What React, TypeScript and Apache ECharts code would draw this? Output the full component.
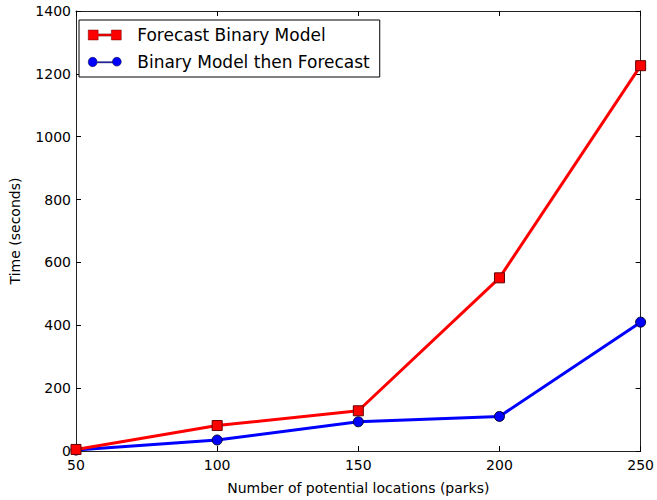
import React, { useEffect, useRef } from "react";
import * as echarts from "echarts";

const xValues = [50, 100, 150, 200, 250];
const forecastBinary = [5, 81, 128, 551, 1226];
const binaryThenForecast = [3, 35, 93, 110, 410];
const seriesNames = ["Forecast Binary Model", "Binary Model then Forecast"];

const FONT = "DejaVu Sans";

const squareIcon =
  "path://M0,0 L9,0 L9,3.5 L21,3.5 L21,0 L30,0 L30,9 L21,9 L21,5.5 L9,5.5 L9,9 L0,9 Z";
const circleIcon =
  "path://M0,4 A4,4 0 1 1 8,4 L22,4 A4,4 0 1 1 30,4 A4,4 0 1 1 22,4 L22,5 L8,5 A4,4 0 1 1 0,4 Z";

export default function App() {
  const ref = useRef<HTMLDivElement>(null);
  useEffect(() => {
    if (!ref.current) return;
    const chart = echarts.init(ref.current, undefined, { renderer: "svg" });
    const tickStyle = { show: true, inside: true, length: 5, lineStyle: { color: "#000", width: 1 } };
    const axisLine = { show: true, onZero: false, lineStyle: { color: "#222", width: 1 } };
    chart.setOption({
      animation: false,
      backgroundColor: "#fff",
      grid: { left: 70, right: 16, top: 11, bottom: 43, containLabel: false },
      legend: {
        orient: "vertical",
        left: 79,
        top: 20,
        padding: [5, 10, 5, 9],
        itemWidth: 33,
        itemHeight: 12,
        itemGap: 7,
        backgroundColor: "#fff",
        borderColor: "#000",
        borderWidth: 1,
        borderRadius: 0,
        textStyle: {
          fontFamily: FONT,
          fontSize: 17,
          color: "#000",
          lineHeight: 20,
          padding: [0, 0, 0, 11],
        },
        data: [
          { name: seriesNames[0], icon: squareIcon, itemStyle: { color: "#ff0000", borderColor: "#600", borderWidth: 0.5 } },
          { name: seriesNames[1], icon: circleIcon, itemStyle: { color: "#0000ff", borderColor: "#003", borderWidth: 0.5 } },
        ],
      },
      xAxis: [
        {
          type: "value",
          min: 50,
          max: 250,
          interval: 50,
          name: "Number of potential locations (parks)",
          nameLocation: "middle",
          nameGap: 30,
          nameTextStyle: { fontFamily: FONT, fontSize: 14, color: "#000" },
          axisLine,
          axisTick: tickStyle,
          axisLabel: { fontFamily: FONT, fontSize: 14, color: "#000", margin: 7 },
          splitLine: { show: false },
        },
        {
          type: "value",
          position: "top",
          min: 50,
          max: 250,
          interval: 50,
          axisLine,
          axisTick: tickStyle,
          axisLabel: { show: false },
          splitLine: { show: false },
        },
      ],
      yAxis: [
        {
          type: "value",
          min: 0,
          max: 1400,
          interval: 200,
          name: "Time (seconds)",
          nameLocation: "middle",
          nameGap: 54,
          nameTextStyle: { fontFamily: FONT, fontSize: 14, color: "#000" },
          axisLine,
          axisTick: tickStyle,
          axisLabel: {
            fontFamily: FONT,
            fontSize: 14,
            color: "#000",
            margin: 5,
            formatter: (v: number) => String(v),
          },
          splitLine: { show: false },
        },
        {
          type: "value",
          position: "right",
          min: 0,
          max: 1400,
          interval: 200,
          axisLine,
          axisTick: tickStyle,
          axisLabel: { show: false },
          splitLine: { show: false },
        },
      ],
      series: [
        {
          name: seriesNames[0],
          type: "line",
          data: xValues.map((x, i) => [x, forecastBinary[i]]),
          symbol: "rect",
          symbolSize: 10,
          lineStyle: { color: "#ff0000", width: 3 },
          itemStyle: { color: "#ff0000", borderColor: "#600", borderWidth: 1 },
          z: 3,
        },
        {
          name: seriesNames[1],
          type: "line",
          data: xValues.map((x, i) => [x, binaryThenForecast[i]]),
          symbol: "circle",
          symbolSize: 10,
          lineStyle: { color: "#0000ff", width: 3 },
          itemStyle: { color: "#0000ff", borderColor: "#003", borderWidth: 1 },
          z: 2,
        },
      ],
    });
    return () => chart.dispose();
  }, []);
  return <div ref={ref} style={{ width: 657, height: 500, position: "absolute", left: 0, top: 0 }} />;
}
